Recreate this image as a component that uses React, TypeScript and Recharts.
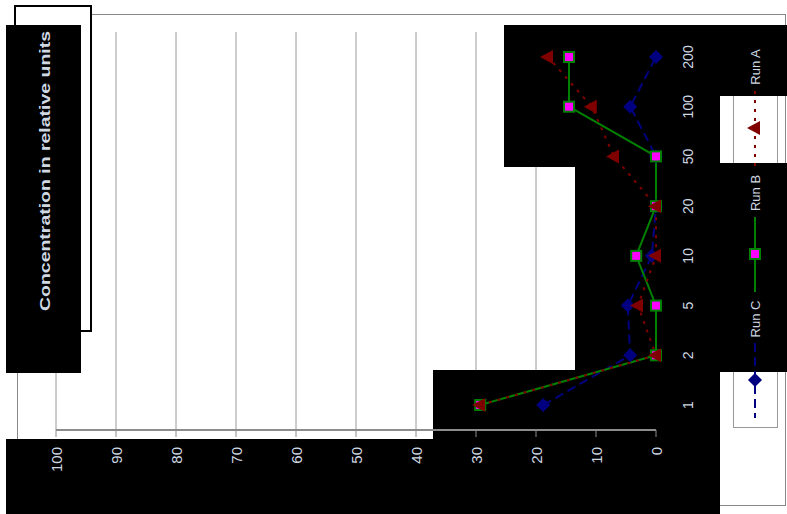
import React from 'react';
import { LineChart, Line, XAxis, YAxis, CartesianGrid, Legend } from 'recharts';

// categories run bottom -> top on the right-hand axis
const categories = ['1', '2', '5', '10', '20', '50', '100', '200'];
const runA = [29.3, 0, 3, 0, 0, 7, 10.7, 18];
const runB = [29.3, 0, 0, 3.3, 0, 0, 14.5, 14.5];
const runC = [18.8, 4.3, 4.7, 0.7, 0, 0, 4.3, 0];
const valueTicks = [0, 10, 20, 30, 40, 50, 60, 70, 80, 90, 100];
const seriesNames = ['Run A', 'Run B', 'Run C'];
const chartTitle = 'Concentration in relative units';

const data = categories.map((cat, i) => ({ cat, a: runA[i], b: runB[i], c: runC[i] }));

const W = 787;
const H = 514;
const margin = { top: 32, right: 71, bottom: 44, left: 56 };
const catPadding = { top: 25, bottom: 25 };
const FONT = '"Liberation Sans", Arial, sans-serif';
const GLITCH = '#cfd8e3';

const Triangle = ({ cx, cy }: any) => (
  <polygon points={`${cx - 8},${cy} ${cx + 5},${cy - 7} ${cx + 5},${cy + 7}`} fill="#800000" />
);
const Square = ({ cx, cy }: any) => (
  <rect x={cx - 5} y={cy - 5} width={10} height={10} fill="#ff00ff" stroke="#008000" strokeWidth={2} />
);
const Diamond = ({ cx, cy }: any) => (
  <polygon points={`${cx},${cy - 7} ${cx + 7},${cy} ${cx},${cy + 7} ${cx - 7},${cy}`} fill="#000080" />
);

// drawing order: blue, green, red on top
const series = [
  { key: 'c', name: seriesNames[2], color: '#000080', dash: '9 5', Marker: Diamond },
  { key: 'b', name: seriesNames[1], color: '#008000', dash: undefined, Marker: Square },
  { key: 'a', name: seriesNames[0], color: '#800000', dash: '3 6', Marker: Triangle },
];

const EmptyTick = () => <g />;

const ValueTick = ({ x, y, payload }: any) => (
  <text
    x={x}
    y={y + 10}
    transform={`rotate(-90 ${x} ${y + 10})`}
    textAnchor="end"
    dominantBaseline="central"
    fill={GLITCH}
    fontSize={15}
    fontFamily={FONT}
  >
    {payload.value}
  </text>
);

const CategoryTick = ({ x, y, payload }: any) => (
  <text
    x={x + 32}
    y={y}
    transform={`rotate(-90 ${x + 32} ${y})`}
    textAnchor="middle"
    dominantBaseline="central"
    fill={GLITCH}
    fontSize={14}
    fontFamily={FONT}
  >
    {payload.value}
  </text>
);

const LegendContent = () => {
  const order = [series[2], series[1], series[0]];
  return (
    <svg width={54} height={400}>
      {order.map((s, i) => {
        const my = 98 + i * 126;
        const M = s.Marker;
        return (
          <g key={s.key}>
            <text
              x={27}
              y={my - 61}
              transform={`rotate(-90 27 ${my - 61})`}
              textAnchor="middle"
              dominantBaseline="central"
              fill={GLITCH}
              fontSize={13}
              fontFamily={FONT}
            >
              {s.name}
            </text>
            <line x1={27} x2={27} y1={my - 37} y2={my + 38} stroke={s.color} strokeWidth={2} strokeDasharray={s.dash} />
            <M cx={27} cy={my} />
          </g>
        );
      })}
    </svg>
  );
};

const blackBoxes = [
  { left: 6, top: 25, width: 75, height: 348 },
  { left: 6, top: 439, width: 714, height: 75 },
  { left: 433, top: 370, width: 287, height: 70 },
  { left: 575, top: 163, width: 212, height: 209 },
  { left: 504, top: 25, width: 216, height: 142 },
  { left: 720, top: 25, width: 67, height: 71 },
];

const abs = (s: React.CSSProperties): React.CSSProperties => ({ position: 'absolute', boxSizing: 'border-box', ...s });

export default function App() {
  return (
    <div style={abs({ left: 0, top: 0, width: W, height: H, background: '#fff', overflow: 'hidden' })}>
      {/* bottom layer: frame, grid, boxes */}
      <div style={abs({ left: 17, top: 14, width: 769, height: 492, border: '1px solid #888' })} />
      <div style={abs({ left: 0, top: 0 })}>
        <LineChart width={W} height={H} data={data} layout="vertical" margin={margin}>
          <CartesianGrid horizontal={false} vertical stroke="#9a9a9a" />
          <XAxis type="number" domain={[0, 100]} ticks={valueTicks} reversed interval={0} height={40} tick={<EmptyTick />} axisLine={false} tickLine={false} />
          <XAxis xAxisId="top" orientation="top" type="number" domain={[0, 100]} height={0} tick={false} axisLine={false} tickLine={false} />
          <YAxis type="category" dataKey="cat" orientation="right" reversed padding={catPadding} width={60} tick={false} axisLine={false} tickLine={false} />
          <Line dataKey="b" stroke="none" dot={false} activeDot={false} isAnimationActive={false} />
        </LineChart>
      </div>
      <div style={abs({ left: 14, top: 5, width: 78, height: 327, border: '2px solid #000', background: '#fff' })} />
      <div style={abs({ left: 733, top: 37, width: 45, height: 391, border: '1px solid #999' })} />

      {/* glitch blocks */}
      {blackBoxes.map((b, i) => (
        <div key={i} style={abs({ ...b, background: '#000' })} />
      ))}

      {/* top layer: series, axes text, legend, title */}
      <div style={abs({ left: 0, top: 0 })}>
        <LineChart width={W} height={H} data={data} layout="vertical" margin={margin}>
          <XAxis
            type="number"
            domain={[0, 100]}
            ticks={valueTicks}
            reversed
            interval={0}
            height={40}
            tickSize={7}
            tickMargin={0}
            axisLine={{ stroke: '#8c8c8c', strokeWidth: 2 }}
            tickLine={{ stroke: '#8c8c8c' }}
            tick={<ValueTick />}
          />
          <XAxis
            xAxisId="top"
            orientation="top"
            type="number"
            domain={[0, 100]}
            height={0}
            tick={false}
            tickLine={false}
            axisLine={{ stroke: '#8c8c8c', strokeWidth: 2 }}
          />
          <YAxis
            type="category"
            dataKey="cat"
            orientation="right"
            reversed
            padding={catPadding}
            interval={0}
            width={60}
            axisLine={false}
            tickLine={false}
            tickSize={0}
            tickMargin={0}
            tick={<CategoryTick />}
          />
          {series.map((s) => (
            <Line
              key={s.key}
              dataKey={s.key}
              name={s.name}
              stroke={s.color}
              strokeWidth={2}
              strokeDasharray={s.dash}
              dot={(p: any) => <s.Marker key={p.index} cx={p.cx} cy={p.cy} />}
              activeDot={false}
              isAnimationActive={false}
            />
          ))}
          <Legend
            layout="vertical"
            align="center"
            verticalAlign="middle"
            width={54}
            height={400}
            wrapperStyle={{ left: 728, top: 30 }}
            content={<LegendContent />}
          />
        </LineChart>
      </div>
      <svg style={abs({ left: 0, top: 0 })} width={100} height={340}>
        <text
          x={45}
          y={171}
          transform="rotate(-90 45 171)"
          textAnchor="middle"
          dominantBaseline="central"
          fill={GLITCH}
          fontSize={14}
          fontWeight="bold"
          fontFamily={FONT}
          textLength={280}
          lengthAdjust="spacingAndGlyphs"
        >
          {chartTitle}
        </text>
      </svg>
    </div>
  );
}
